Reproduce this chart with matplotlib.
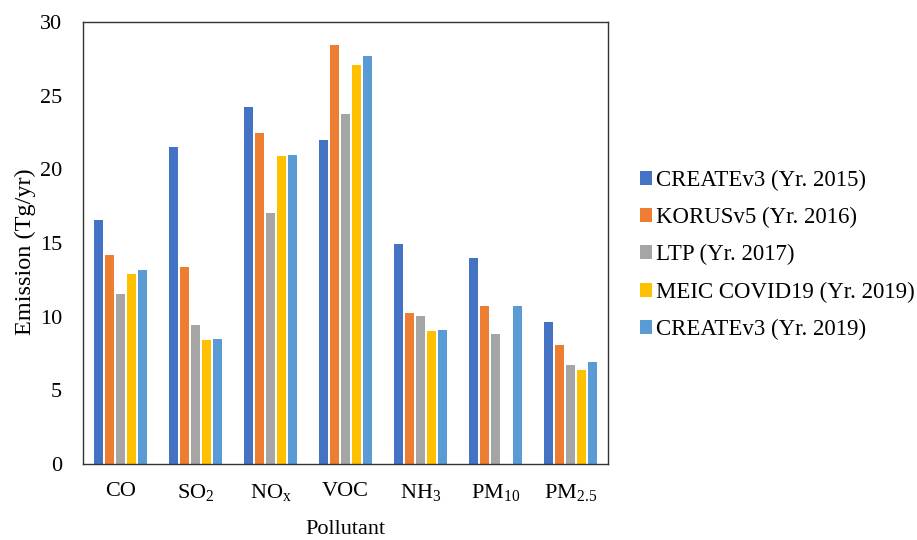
import numpy as np
import matplotlib
matplotlib.use("Agg")
import matplotlib.pyplot as plt

plt.rcParams['font.family'] = 'Liberation Serif'
plt.rcParams['mathtext.fontset'] = 'custom'
plt.rcParams['mathtext.rm'] = 'Liberation Serif'
plt.rcParams['mathtext.it'] = 'Liberation Serif'

pollutants = ["CO", "SO$_2$", "NO$_\\mathrm{x}$", "VOC", "NH$_3$", "PM$_{10}$", "PM$_{2.5}$"]
series = ["CREATEv3 (Yr. 2015)", "KORUSv5 (Yr. 2016)", "LTP (Yr. 2017)",
          "MEIC COVID19 (Yr. 2019)", "CREATEv3 (Yr. 2019)"]
create2015 = [16.55, 21.5, 24.25, 22.0, 14.9, 14.0, 9.65]
korus2016 = [14.2, 13.4, 22.5, 28.45, 10.25, 10.75, 8.1]
ltp2017 = [11.55, 9.45, 17.05, 23.75, 10.05, 8.8, 6.7]
meic2019 = [12.9, 8.4, 20.9, 27.1, 9.0, 0, 6.4]
create2019 = [13.2, 8.5, 21.0, 27.7, 9.1, 10.75, 6.9]
values = [create2015, korus2016, ltp2017, meic2019, create2019]
colors = ["#4472C4", "#ED7D31", "#A5A5A5", "#FFC000", "#5B9BD5"]

fig = plt.figure(figsize=(9.17, 5.4), dpi=100)
ax = fig.add_axes([83/917, 1-464/540, 525/917, 442/540])

x = np.arange(len(pollutants))
step = 0.147
width = 0.12
for i, (name, vals) in enumerate(zip(series, values)):
    ax.bar(x + (i - 2) * step, vals, width, color=colors[i], label=name)

ax.set_xlim(-0.5, len(pollutants) - 0.5)
ax.set_ylim(0, 30)
ax.set_yticks(range(0, 31, 5))
ax.set_xticks(x)
ax.set_xticklabels(pollutants)
ax.tick_params(axis="x", length=0, labelsize=16, pad=13)
ax.tick_params(axis="y", length=0, labelsize=16, pad=15)
ax.set_xlabel("Pollutant", fontsize=16, labelpad=12)
ax.set_ylabel("Emission (Tg/yr)", fontsize=17.5)
ax.yaxis.set_label_coords(-0.09, 0.48)
for s in ax.spines.values():
    s.set_linewidth(1.0)
    s.set_color("#333333")

ax.legend(loc="center left", bbox_to_anchor=(1.021, 0.473), frameon=False,
          fontsize=16.5, handlelength=0.56, handleheight=0.56, handletextpad=0.17,
          labelspacing=0.7)

fig.savefig("out.png", dpi=100)
